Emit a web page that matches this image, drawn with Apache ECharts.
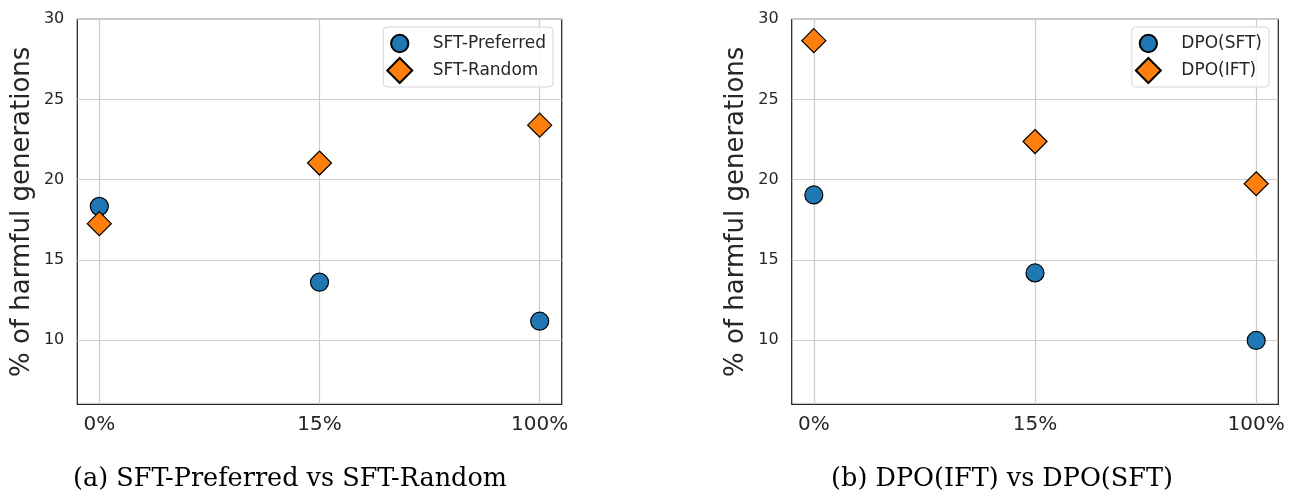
<!DOCTYPE html>
<html>
<head>
<meta charset="utf-8">
<script src="https://cdn.jsdelivr.net/npm/echarts@6/dist/echarts.min.js"></script>
<style>
html,body{margin:0;padding:0;background:#fff;}
#chart{width:1289px;height:500px;}
</style>
</head>
<body>
<div id="chart"></div>
<script>
// ---- data ----
const categories = ['0%', '15%', '100%'];
const xPositions = [0, 1, 2];
const yTicks = [10, 15, 20, 25, 30];

const sftPreferred = [18.34, 13.61, 11.18];
const sftRandom = [17.26, 21.04, 23.40];
const dpoSft = [19.05, 14.19, 9.98];
const dpoIft = [28.67, 22.38, 19.75];

const panelA = { title: '(a) SFT-Preferred vs SFT-Random', s1: 'SFT-Preferred', s2: 'SFT-Random' };
const panelB = { title: '(b) DPO(IFT) vs DPO(SFT)', s1: 'DPO(SFT)', s2: 'DPO(IFT)' };

// ---- styling ----
const TEXT = '#262626';
const BLUE = '#1f77b4';
const ORANGE = '#ff7f0e';
const GRIDC = '#cccccc';
const circleIcon = 'path://M0,0L0,0M26,26L26,26M4,13A9,9,0,1,0,22,13A9,9,0,1,0,4,13Z';
const diamondIcon = 'path://M13,0L26,13L13,26L0,13Z';

function pts(vals) { return xPositions.map((x, i) => [x, vals[i]]); }

function xAxisFor(gi) {
  return {
    type: 'value', gridIndex: gi, min: -0.1, max: 2.1,
    axisLine: { show: false }, axisTick: { show: false }, splitLine: { show: false },
    axisLabel: {
      customValues: xPositions, margin: 10,
      formatter: v => categories[Math.round(v)] || '',
      color: TEXT, fontSize: 20, fontFamily: 'DejaVu Sans'
    }
  };
}
function yAxisFor(gi) {
  return {
    type: 'value', gridIndex: gi, min: 6, max: 30,
    name: '% of harmful generations', nameLocation: 'middle', nameGap: 42,
    nameTextStyle: { color: TEXT, fontSize: 26, fontFamily: 'DejaVu Sans' },
    axisLine: { show: false }, axisTick: { show: false }, splitLine: { show: false },
    axisLabel: { customValues: yTicks, margin: 13, color: TEXT, fontSize: 16, fontFamily: 'DejaVu Sans' }
  };
}
function gridLines(gi) {
  return {
    type: 'scatter', xAxisIndex: gi, yAxisIndex: gi, data: [], z: 1, silent: true,
    markLine: {
      z: 1, silent: true, symbol: ['none', 'none'], label: { show: false }, animation: false,
      lineStyle: { color: GRIDC, width: 1.2, type: 'solid' },
      emphasis: { disabled: true },
      data: xPositions.map(v => ({ xAxis: v })).concat(yTicks.map(v => ({ yAxis: v })))
    }
  };
}
function scatter(gi, name, vals, sym, size, color) {
  return {
    type: 'scatter', name: name, xAxisIndex: gi, yAxisIndex: gi, z: 10,
    symbol: sym, symbolSize: size, symbolKeepAspect: true,
    itemStyle: { color: color, borderColor: '#000', borderWidth: 1.2, opacity: 1 },
    emphasis: { disabled: true },
    data: pts(vals)
  };
}
function legendFor(p, right) {
  return {
    orient: 'vertical', right: right, top: 27, z: 20,
    itemWidth: 40, itemHeight: 25, itemGap: 0,
    padding: [3, 7, 3, 3],
    backgroundColor: 'rgba(255,255,255,0.8)',
    borderColor: '#d6d6d6', borderWidth: 1, borderRadius: 4,
    textStyle: { color: TEXT, fontSize: 17, fontFamily: 'DejaVu Sans', padding: [0, 0, 0, 8] },
    selectedMode: false,
    data: [ { name: p.s1, icon: circleIcon }, { name: p.s2, icon: diamondIcon } ]
  };
}
const capStyle = { fontFamily: 'DejaVu Serif', fontWeight: 'normal', fontSize: 25.5, color: '#000' };

const option = {
  animation: false,
  backgroundColor: '#fff',
  title: [
    { text: panelA.title, left: 290, top: 466, textAlign: 'center', padding: 0, textStyle: capStyle },
    { text: panelB.title, left: 1002, top: 466, textAlign: 'center', padding: 0, textStyle: capStyle }
  ],
  legend: [ legendFor(panelA, 736), legendFor(panelB, 20) ],
  grid: [
    { left: 77.3, top: 19.3, width: 484.4, height: 385, show: true, borderColor: TEXT, borderWidth: 1.25, backgroundColor: '#fff', containLabel: false },
    { left: 791.7, top: 19.3, width: 486.6, height: 385, show: true, borderColor: TEXT, borderWidth: 1.25, backgroundColor: '#fff', containLabel: false }
  ],
  xAxis: [ xAxisFor(0), xAxisFor(1) ],
  yAxis: [ yAxisFor(0), yAxisFor(1) ],
  series: [
    gridLines(0), gridLines(1),
    scatter(0, panelA.s1, sftPreferred, 'circle', 18, BLUE),
    scatter(0, panelA.s2, sftRandom, 'diamond', 24, ORANGE),
    scatter(1, panelB.s1, dpoSft, 'circle', 18, BLUE),
    scatter(1, panelB.s2, dpoIft, 'diamond', 24, ORANGE)
  ]
};
const chart = echarts.init(document.getElementById('chart'), null, { renderer: 'canvas' });
chart.setOption(option);
</script>
</body>
</html>
